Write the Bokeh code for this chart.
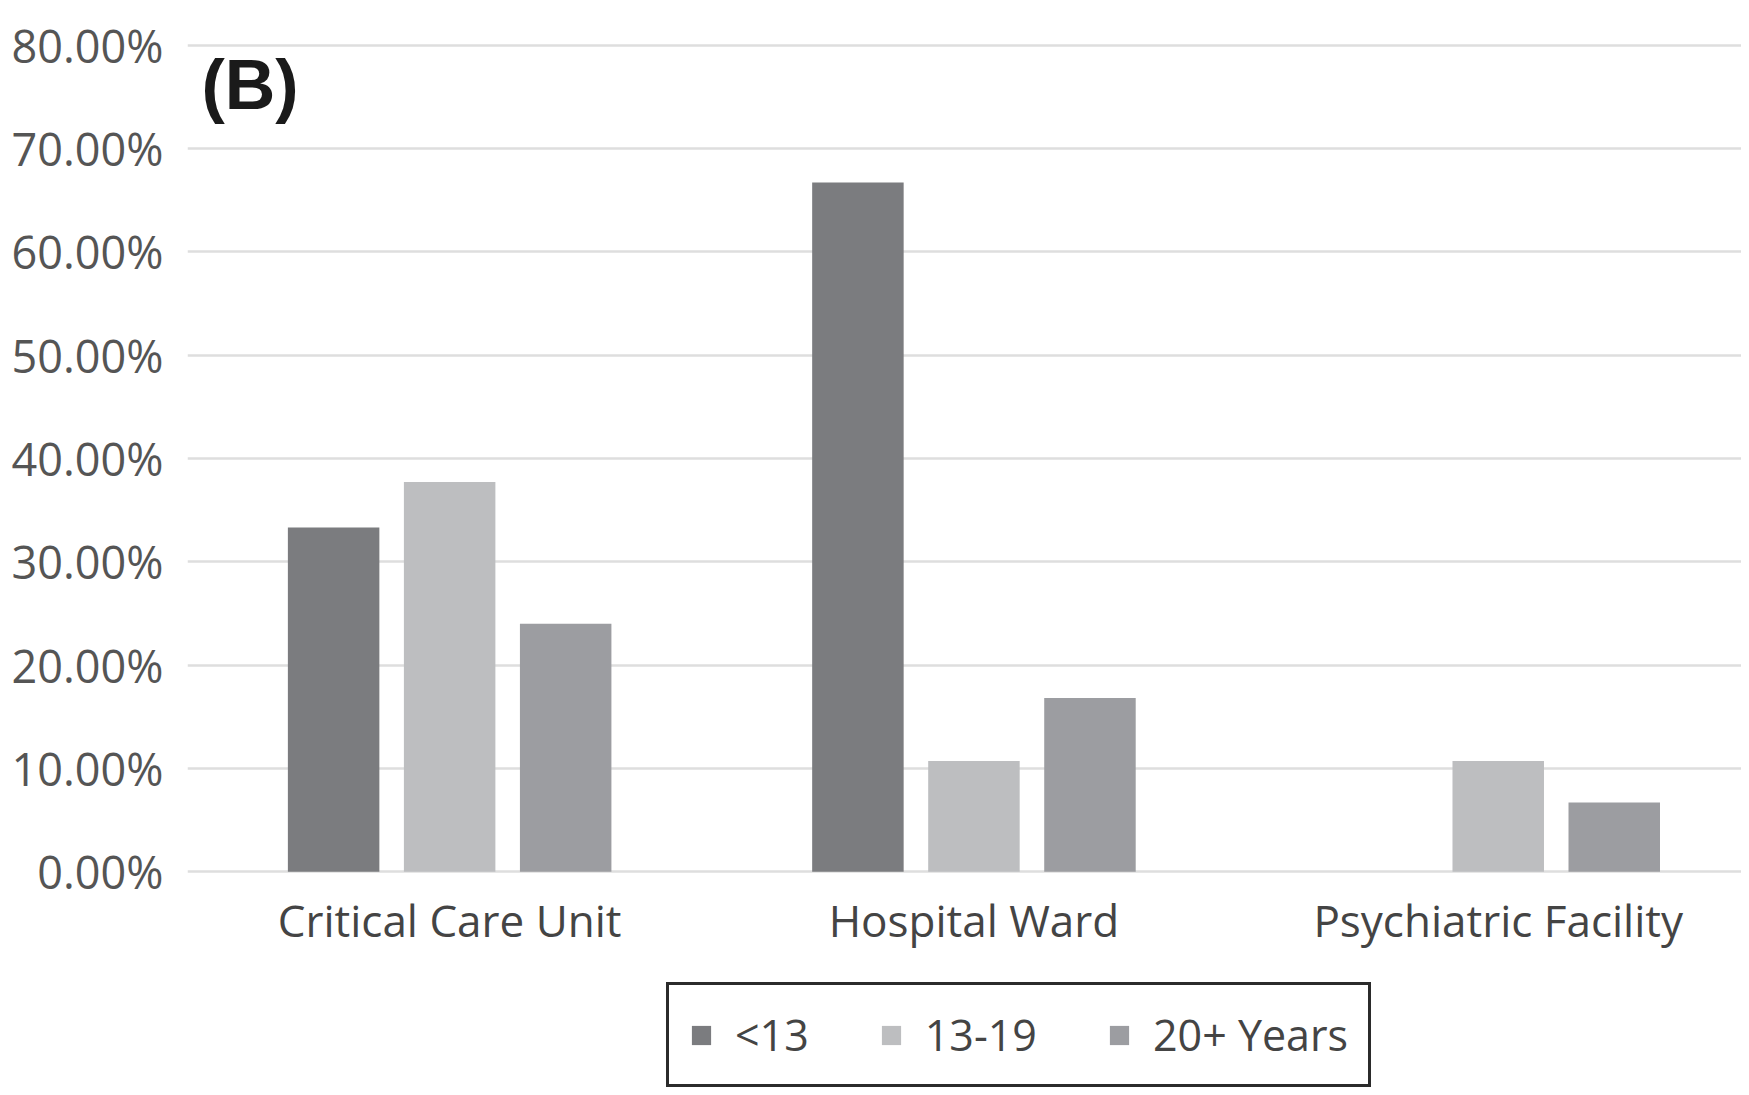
from bokeh.plotting import figure
from bokeh.models import (ColumnDataSource, Range1d, FixedTicker, PrintfTickFormatter,
                          Legend, LegendItem, Label)
from bokeh.embed import file_html
from bokeh.resources import INLINE

# ---- data ----
categories = ["Critical Care Unit", "Hospital Ward", "Psychiatric Facility"]
groups = ["<13", "13-19", "20+ Years"]
under13 = [33.3, 66.7, 0.0]
age13_19 = [37.7, 10.7, 10.7]
age20plus = [24.0, 16.8, 6.7]
y_ticks = [0, 10, 20, 30, 40, 50, 60, 70, 80]
panel_tag = "(B)"

colors = ["#7b7c7f", "#bdbec0", "#9c9da1"]
series = [under13, age13_19, age20plus]
offsets = [-0.2213, 0.0, 0.2213]
bar_w = 0.1745

p = figure(width=1741, height=1087, output_backend="svg", toolbar_location=None,
           x_range=Range1d(0, 2.964), y_range=Range1d(-20.89, 82.57),
           min_border_left=187, min_border_right=0, min_border_top=18,
           min_border_bottom=0)
p.outline_line_color = None
p.background_fill_color = "white"
p.border_fill_color = "white"

renderers = []
for vals, off, col in zip(series, offsets, colors):
    src = ColumnDataSource(dict(x=[i + 0.5 + off for i in range(len(categories))], top=vals))
    r = p.vbar(x="x", top="top", width=bar_w, bottom=0, source=src,
               fill_color=col, line_color=None)
    renderers.append(r)

# axes
p.xaxis.fixed_location = 0
p.xaxis.ticker = FixedTicker(ticks=[i + 0.5 for i in range(len(categories))])
p.xaxis.major_label_overrides = {i + 0.5: c for i, c in enumerate(categories)}
p.xaxis.axis_line_color = None
p.xaxis.major_tick_line_color = None
p.xaxis.minor_tick_line_color = None
p.xaxis.major_label_text_font = "Open Sans"
p.xaxis.major_label_text_font_size = "44px"
p.xaxis.major_label_text_color = "#444444"
p.xaxis.major_label_standoff = 12

p.yaxis.ticker = FixedTicker(ticks=y_ticks)
p.yaxis.formatter = PrintfTickFormatter(format="%.2f%%")
p.yaxis.axis_line_color = None
p.yaxis.major_tick_line_color = None
p.yaxis.minor_tick_line_color = None
p.yaxis.major_label_text_font = "Open Sans"
p.yaxis.major_label_text_font_size = "45px"
p.yaxis.major_label_text_color = "#555555"
p.yaxis.major_label_standoff = 18

p.xgrid.grid_line_color = None
p.ygrid.grid_line_color = "#dedede"
p.ygrid.grid_line_width = 2.5
p.ygrid.ticker = FixedTicker(ticks=y_ticks)

# panel tag
p.add_layout(Label(x=0.0267, y=76.1, text=panel_tag, text_font="Liberation Sans",
                   text_font_style="bold", text_font_size="70px", text_color="#1a1a1a",
                   text_baseline="middle", text_align="left"))

legend = Legend(items=[LegendItem(label=g, renderers=[r]) for g, r in zip(groups, renderers)],
                orientation="horizontal", location=(479, 0),
                glyph_width=24, glyph_height=24, label_standoff=22, spacing=70,
                padding=20, margin=0,
                label_text_font="Open Sans", label_text_font_size="43px",
                label_text_color="#444444",
                border_line_color="#2b2b2b", border_line_width=3, border_line_alpha=1.0,
                background_fill_color="white", background_fill_alpha=1.0)
p.add_layout(legend)

open("out.html", "w").write(file_html(p, INLINE))
